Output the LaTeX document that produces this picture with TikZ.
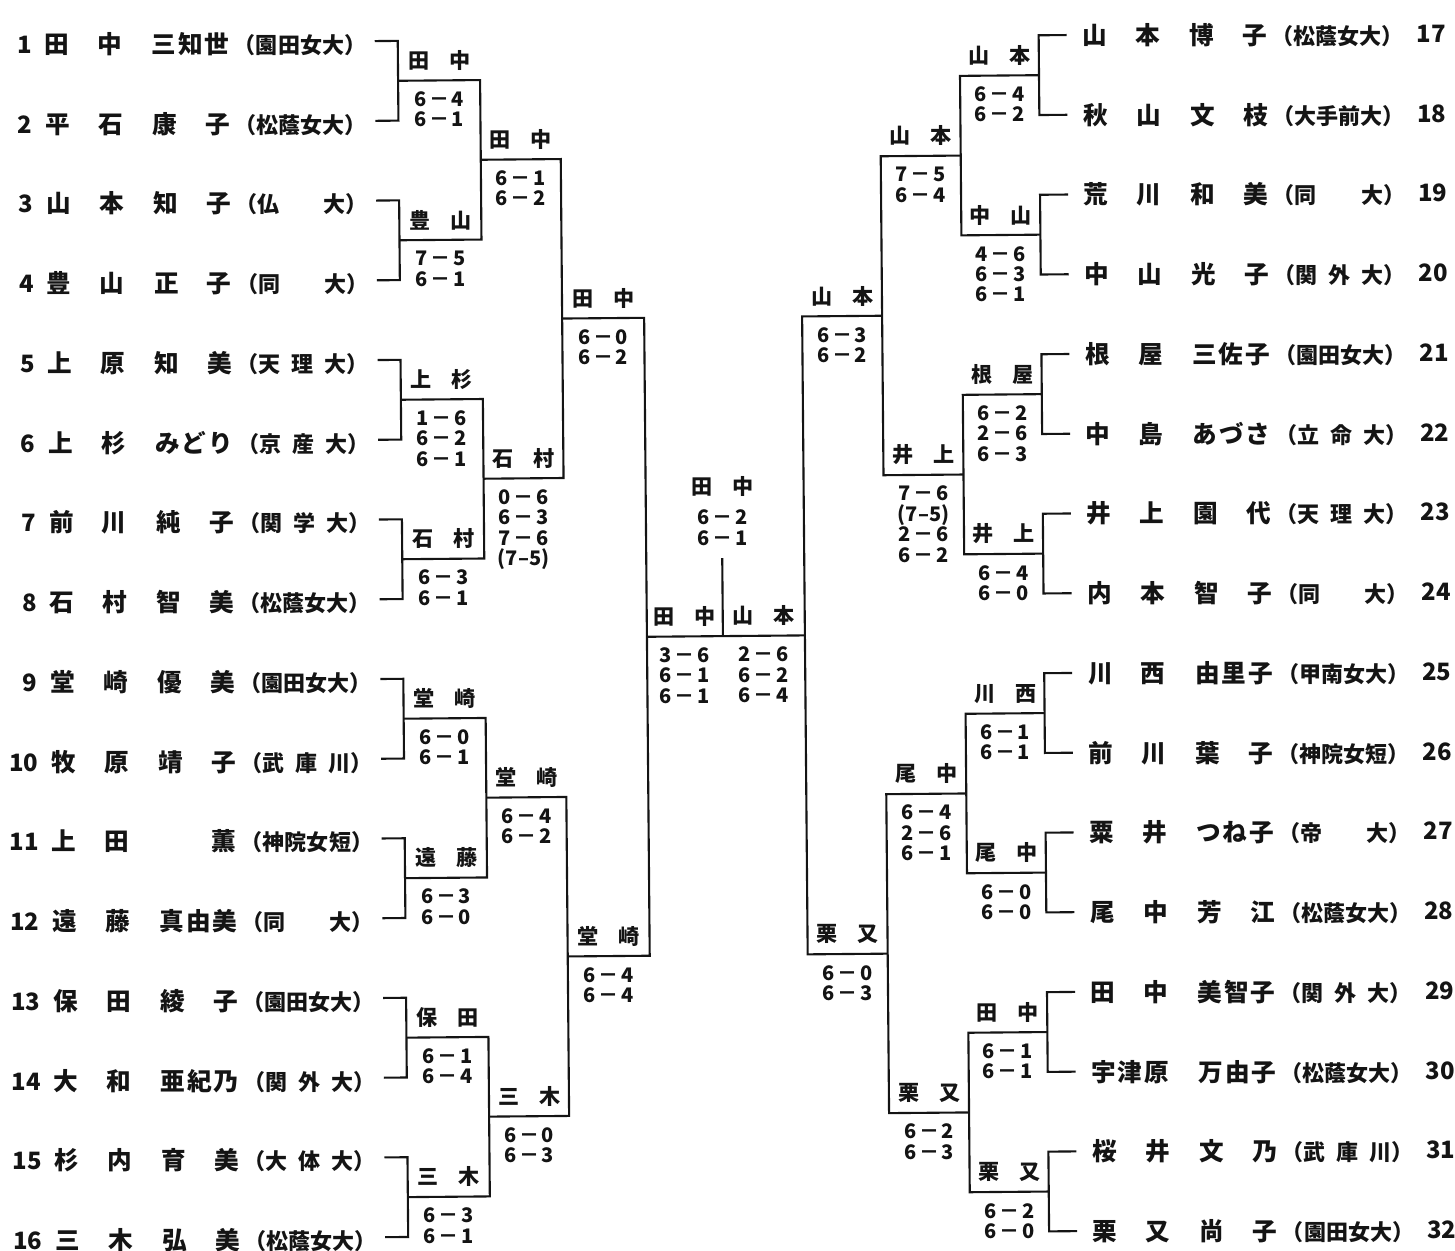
\documentclass[tikz,border=0pt]{standalone}
\usepackage{fontspec}
\usetikzlibrary{positioning}
\newfontfamily\jp{Noto Sans CJK JP}
\definecolor{ink}{RGB}{20,20,20}

% characters of #1 spread evenly over the width of the enclosing box
\def\spreadchars#1{\spreadstep#1\spreadend}
\def\spreadstep#1#2\spreadend{#1\ifx\relax#2\relax\else\hfill\spreadstep#2\spreadend\fi}

\newcommand{\pname}[2]{\makebox[0.775cm][s]{\spreadchars{#1}}\hspace{0.295cm}\makebox[0.775cm][s]{\spreadchars{#2}}}
\newcommand{\puniv}[1]{{\fontsize{6.26pt}{7pt}\selectfont （\makebox[4em][s]{\spreadchars{#1}}）}}
\newcommand{\pnum}[1]{{\fontsize{6.8pt}{7pt}\selectfont #1}}
\newcommand{\lplayer}[4]{\raisebox{-0.03cm}[\height][\depth]{\makebox[0.30cm][r]{\pnum{#1}}\hspace{0.13cm}\pname{#2}{#3}\hspace{0.045cm}\puniv{#4}}}
\newcommand{\rplayer}[4]{\pname{#2}{#3}\hspace{0.045cm}\puniv{#4}\hspace{0.13cm}\raisebox{0.02cm}{\pnum{#1}}}
\newcommand{\wname}[1]{\makebox[0.62cm][s]{\spreadchars{#1}}}
\newcommand{\gm}[2]{\makebox[0.5cm][s]{#1\hfill－\hfill#2}}

\begin{document}
\begin{tikzpicture}[
    x=0.01cm, y=-0.01cm,
    bracket/.style={line width=0.6pt, ink},
    leftname/.style={anchor=east, inner xsep=0.08cm, inner ysep=0pt, text=ink, font=\jp\bfseries\fontsize{7pt}{8pt}\selectfont},
    rightname/.style={anchor=west, inner xsep=0.15cm, inner ysep=0pt, text=ink, font=\jp\bfseries\fontsize{7pt}{8pt}\selectfont},
    wintext/.style={inner sep=0pt, text=ink, font=\jp\bfseries\fontsize{6pt}{7pt}\selectfont},
    win/.style={wintext, anchor=south, yshift=0.093cm},
    scoretext/.style={inner sep=0pt, align=center, text=ink, font=\jp\bfseries\fontsize{5.7pt}{5.8pt}\selectfont},
    score/.style={scoretext, anchor=north, yshift=-0.105cm}
]
    \useasboundingbox (0,0) rectangle (1455,1250);

    % the scan is turned a little
    \begin{scope}[rotate around={0.5:(727,640)}]

    % --- LEFT HALF: PLAYERS 1-16 ---
    \node[leftname] (p1)  at (380, 38)     {\lplayer{1}{田中}{三知世}{園田女大}};
    \node[leftname] (p2)  at (380, 117.75) {\lplayer{2}{平石}{康子}{松蔭女大}};
    \node[leftname] (p3)  at (380, 197.5)  {\lplayer{3}{山本}{知子}{仏大}};
    \node[leftname] (p4)  at (380, 277.25) {\lplayer{4}{豊山}{正子}{同大}};
    \node[leftname] (p5)  at (380, 357)    {\lplayer{5}{上原}{知美}{天理大}};
    \node[leftname] (p6)  at (380, 436.75) {\lplayer{6}{上杉}{みどり}{京産大}};
    \node[leftname] (p7)  at (380, 516.5)  {\lplayer{7}{前川}{純子}{関学大}};
    \node[leftname] (p8)  at (380, 596.25) {\lplayer{8}{石村}{智美}{松蔭女大}};
    \node[leftname] (p9)  at (380, 676)    {\lplayer{9}{堂崎}{優美}{園田女大}};
    \node[leftname] (p10) at (380, 755.75) {\lplayer{10}{牧原}{靖子}{武庫川}};
    \node[leftname] (p11) at (380, 835.5)  {\lplayer{11}{上田}{\hfill 薫}{神院女短}};
    \node[leftname] (p12) at (380, 915.25) {\lplayer{12}{遠藤}{真由美}{同大}};
    \node[leftname] (p13) at (380, 995)    {\lplayer{13}{保田}{綾子}{園田女大}};
    \node[leftname] (p14) at (380, 1074.75){\lplayer{14}{大和}{亜紀乃}{関外大}};
    \node[leftname] (p15) at (380, 1154.5) {\lplayer{15}{杉内}{育美}{大体大}};
    \node[leftname] (p16) at (380, 1234.25){\lplayer{16}{三木}{弘美}{松蔭女大}};

    % --- RIGHT HALF: PLAYERS 17-32 ---
    \node[rightname] (p17) at (1072, 38)     {\rplayer{17}{山本}{博子}{松蔭女大}};
    \node[rightname] (p18) at (1072, 117.75) {\rplayer{18}{秋山}{文枝}{大手前大}};
    \node[rightname] (p19) at (1072, 197.5)  {\rplayer{19}{荒川}{和美}{同大}};
    \node[rightname] (p20) at (1072, 277.25) {\rplayer{20}{中山}{光子}{関外大}};
    \node[rightname] (p21) at (1072, 357)    {\rplayer{21}{根屋}{三佐子}{園田女大}};
    \node[rightname] (p22) at (1072, 436.75) {\rplayer{22}{中島}{あづさ}{立命大}};
    \node[rightname] (p23) at (1072, 516.5)  {\rplayer{23}{井上}{園代}{天理大}};
    \node[rightname] (p24) at (1072, 596.25) {\rplayer{24}{内本}{智子}{同大}};
    \node[rightname] (p25) at (1072, 676)    {\rplayer{25}{川西}{由里子}{甲南女大}};
    \node[rightname] (p26) at (1072, 755.75) {\rplayer{26}{前川}{葉子}{神院女短}};
    \node[rightname] (p27) at (1072, 835.5)  {\rplayer{27}{粟井}{つね子}{帝大}};
    \node[rightname] (p28) at (1072, 915.25) {\rplayer{28}{尾中}{芳江}{松蔭女大}};
    \node[rightname] (p29) at (1072, 995)    {\rplayer{29}{田中}{美智子}{関外大}};
    \node[rightname] (p30) at (1072, 1074.75){\rplayer{30}{宇津原}{万由子}{松蔭女大}};
    \node[rightname] (p31) at (1072, 1154.5) {\rplayer{31}{桜井}{文乃}{武庫川}};
    \node[rightname] (p32) at (1072, 1234.25){\rplayer{32}{栗又}{尚子}{園田女大}};

    % --- JOINTS ---
    \coordinate (a1) at (403, 77.9);   \coordinate (A1) at (1044, 77.9);
    \coordinate (a2) at (403, 237.4);  \coordinate (A2) at (1044, 237.4);
    \coordinate (a3) at (403, 396.9);  \coordinate (A3) at (1044, 396.9);
    \coordinate (a4) at (403, 556.4);  \coordinate (A4) at (1044, 556.4);
    \coordinate (a5) at (403, 715.9);  \coordinate (A5) at (1044, 715.9);
    \coordinate (a6) at (403, 875.4);  \coordinate (A6) at (1044, 875.4);
    \coordinate (a7) at (403, 1034.9); \coordinate (A7) at (1044, 1034.9);
    \coordinate (a8) at (403, 1194.4); \coordinate (A8) at (1044, 1194.4);
    \coordinate (b1) at (485, 157.6);  \coordinate (B1) at (965, 157.6);
    \coordinate (b2) at (485, 476.6);  \coordinate (B2) at (965, 476.6);
    \coordinate (b3) at (485, 795.6);  \coordinate (B3) at (965, 795.6);
    \coordinate (b4) at (485, 1114.6); \coordinate (B4) at (965, 1114.6);
    \coordinate (c1) at (565, 317.1);  \coordinate (C1) at (885, 317.1);
    \coordinate (c2) at (565, 955.1);  \coordinate (C2) at (885, 955.1);
    \coordinate (d1) at (647, 636.1);  \coordinate (D1) at (805, 636.1);
    \coordinate (champ) at (723, 558);

    % --- BRACKET LINES ---
    \draw[bracket] (p1.east) -| (a1) |- (p2.east);
    \draw[bracket] (p3.east) -| (a2) |- (p4.east);
    \draw[bracket] (p5.east) -| (a3) |- (p6.east);
    \draw[bracket] (p7.east) -| (a4) |- (p8.east);
    \draw[bracket] (p9.east) -| (a5) |- (p10.east);
    \draw[bracket] (p11.east) -| (a6) |- (p12.east);
    \draw[bracket] (p13.east) -| (a7) |- (p14.east);
    \draw[bracket] (p15.east) -| (a8) |- (p16.east);
    \draw[bracket] (a1) -| (b1) |- (a2);
    \draw[bracket] (a3) -| (b2) |- (a4);
    \draw[bracket] (a5) -| (b3) |- (a6);
    \draw[bracket] (a7) -| (b4) |- (a8);
    \draw[bracket] (b1) -| (c1) |- (b2);
    \draw[bracket] (b3) -| (c2) |- (b4);
    \draw[bracket] (c1) -| (d1) |- (c2);

    \draw[bracket] (p17.west) -| (A1) |- (p18.west);
    \draw[bracket] (p19.west) -| (A2) |- (p20.west);
    \draw[bracket] (p21.west) -| (A3) |- (p22.west);
    \draw[bracket] (p23.west) -| (A4) |- (p24.west);
    \draw[bracket] (p25.west) -| (A5) |- (p26.west);
    \draw[bracket] (p27.west) -| (A6) |- (p28.west);
    \draw[bracket] (p29.west) -| (A7) |- (p30.west);
    \draw[bracket] (p31.west) -| (A8) |- (p32.west);
    \draw[bracket] (A1) -| (B1) |- (A2);
    \draw[bracket] (A3) -| (B2) |- (A4);
    \draw[bracket] (A5) -| (B3) |- (A6);
    \draw[bracket] (A7) -| (B4) |- (A8);
    \draw[bracket] (B1) -| (C1) |- (B2);
    \draw[bracket] (B3) -| (C2) |- (B4);
    \draw[bracket] (C1) -| (D1) |- (C2);

    \draw[bracket] (d1) -- (D1);
    \draw[bracket] (champ) -- (champ |- d1);

    % --- LEFT RESULTS ---
    \node[win] (wa1) at (444, 77.9) {\wname{田中}};   \node[score] (sa1) at (444, 77.9) {\gm64\\\gm61};
    \node[win] (wa2) at (444, 237.4) {\wname{豊山}};  \node[score] (sa2) at (444, 237.4) {\gm75\\\gm61};
    \node[win] (wa3) at (444, 396.9) {\wname{上杉}};  \node[score] (sa3) at (444, 396.9) {\gm16\\\gm62\\\gm61};
    \node[win] (wa4) at (444, 556.4) {\wname{石村}};  \node[score] (sa4) at (444, 556.4) {\gm63\\\gm61};
    \node[win] (wa5) at (444, 715.9) {\wname{堂崎}};  \node[score] (sa5) at (444, 715.9) {\gm60\\\gm61};
    \node[win] (wa6) at (444, 875.4) {\wname{遠藤}};  \node[score] (sa6) at (444, 875.4) {\gm63\\\gm60};
    \node[win] (wa7) at (444, 1034.9) {\wname{保田}}; \node[score] (sa7) at (444, 1034.9) {\gm61\\\gm64};
    \node[win] (wa8) at (444, 1194.4) {\wname{三木}}; \node[score] (sa8) at (444, 1194.4) {\gm63\\\gm61};
    \node[win] (wb1) at (525, 157.6) {\wname{田中}};  \node[score] (sb1) at (525, 157.6) {\gm61\\\gm62};
    \node[win] (wb2) at (525, 476.6) {\wname{石村}};  \node[score] (sb2) at (525, 476.6) {\gm06\\\gm63\\\gm76\\(7–5)};
    \node[win] (wb3) at (525, 795.6) {\wname{堂崎}};  \node[score] (sb3) at (525, 795.6) {\gm64\\\gm62};
    \node[win] (wb4) at (525, 1114.6) {\wname{三木}}; \node[score] (sb4) at (525, 1114.6) {\gm60\\\gm63};
    \node[win] (wc1) at (606, 317.1) {\wname{田中}};  \node[score] (sc1) at (606, 317.1) {\gm60\\\gm62};
    \node[win] (wc2) at (606, 955.1) {\wname{堂崎}};  \node[score] (sc2) at (606, 955.1) {\gm64\\\gm64};
    \node[win] (wd1) at (685, 636.1) {\wname{田中}};  \node[score] (sd1) at (685, 636.1) {\gm36\\\gm61\\\gm61};

    % --- RIGHT RESULTS ---
    \node[win] (wA1) at (1004.5, 77.9) {\wname{山本}};   \node[score] (sA1) at (1004.5, 77.9) {\gm64\\\gm62};
    \node[win] (wA2) at (1004.5, 237.4) {\wname{中山}};  \node[score] (sA2) at (1004.5, 237.4) {\gm46\\\gm63\\\gm61};
    \node[win] (wA3) at (1004.5, 396.9) {\wname{根屋}};  \node[score] (sA3) at (1004.5, 396.9) {\gm62\\\gm26\\\gm63};
    \node[win] (wA4) at (1004.5, 556.4) {\wname{井上}};  \node[score] (sA4) at (1004.5, 556.4) {\gm64\\\gm60};
    \node[win] (wA5) at (1004.5, 715.9) {\wname{川西}};  \node[score] (sA5) at (1004.5, 715.9) {\gm61\\\gm61};
    \node[win] (wA6) at (1004.5, 875.4) {\wname{尾中}};  \node[score] (sA6) at (1004.5, 875.4) {\gm60\\\gm60};
    \node[win] (wA7) at (1004.5, 1034.9) {\wname{田中}}; \node[score] (sA7) at (1004.5, 1034.9) {\gm61\\\gm61};
    \node[win] (wA8) at (1004.5, 1194.4) {\wname{栗又}}; \node[score] (sA8) at (1004.5, 1194.4) {\gm62\\\gm60};
    \node[win] (wB1) at (925, 157.6) {\wname{山本}};  \node[score] (sB1) at (925, 157.6) {\gm75\\\gm64};
    \node[win] (wB2) at (925, 476.6) {\wname{井上}};  \node[score] (sB2) at (925, 476.6) {\gm76\\(7–5)\\\gm26\\\gm62};
    \node[win] (wB3) at (925, 795.6) {\wname{尾中}};  \node[score] (sB3) at (925, 795.6) {\gm64\\\gm26\\\gm61};
    \node[win] (wB4) at (925, 1114.6) {\wname{栗又}}; \node[score] (sB4) at (925, 1114.6) {\gm62\\\gm63};
    \node[win] (wC1) at (845, 317.1) {\wname{山本}};  \node[score] (sC1) at (845, 317.1) {\gm63\\\gm62};
    \node[win] (wC2) at (845, 955.1) {\wname{栗又}};  \node[score] (sC2) at (845, 955.1) {\gm60\\\gm63};
    \node[win] (wD1) at (764, 636.1) {\wname{山本}};  \node[score] (sD1) at (764, 636.1) {\gm26\\\gm62\\\gm64};

    % --- CHAMPION ---
    \node[scoretext, above=0.12cm of champ] (sch) {\gm62\\\gm61};
    \node[wintext, above=0.12cm of sch] (wch) {\wname{田中}};

    \end{scope}
\end{tikzpicture}
\end{document}
